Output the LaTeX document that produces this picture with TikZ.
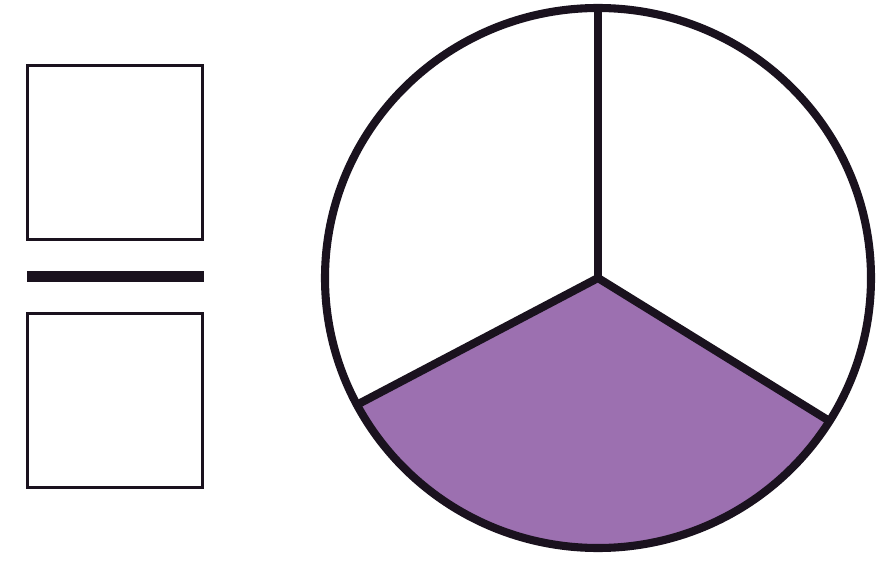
\documentclass[tikz,border=0pt]{standalone}
\usetikzlibrary{math}
\definecolor{qpurple}{RGB}{156,112,176}
\definecolor{qink}{RGB}{26,18,30}

\begin{document}
\begin{tikzpicture}[x=0.02cm,y=0.02cm]

\tikzmath{
\cx = 598;% pie centre
\cy = 284;
\rx = 273;
\ry = 270;
\aL = 208;
\aR = 328;
}

\useasboundingbox (0,0) rectangle (893,562);

%fraction:
\node[draw=qink, line width=1.8pt, minimum width=3.5cm, minimum height=3.48cm, inner sep=0pt] (num) at (115,409.5) {};
\node[draw=qink, line width=1.8pt, minimum width=3.5cm, minimum height=3.48cm, inner sep=0pt] (den) at (115,161.5) {};
\coordinate (barL) at (27,285.5);
\coordinate (barR) at (204,285.5);
\draw[qink, line width=6.2pt] (barL) -- (barR);

%pie:
\coordinate (C) at (\cx,\cy);
\coordinate (T) at (\cx,\cy+\ry);
\coordinate (L) at ({\cx+\rx*cos(\aL)},{\cy+\ry*sin(\aL)});
\coordinate (R) at ({\cx+\rx*cos(\aR)},{\cy+\ry*sin(\aR)});

\fill[qpurple] (C) -- (L) arc[start angle=\aL, end angle=\aR, x radius=\rx, y radius=\ry] -- cycle;

\draw[qink, line width=4.2pt] (C) -- (T);
\draw[qink, line width=4.6pt, line join=round] (L) -- (C) -- (R);
\draw[qink, line width=4.6pt] (C) ellipse[x radius=\rx, y radius=\ry];

\end{tikzpicture}
\end{document}
